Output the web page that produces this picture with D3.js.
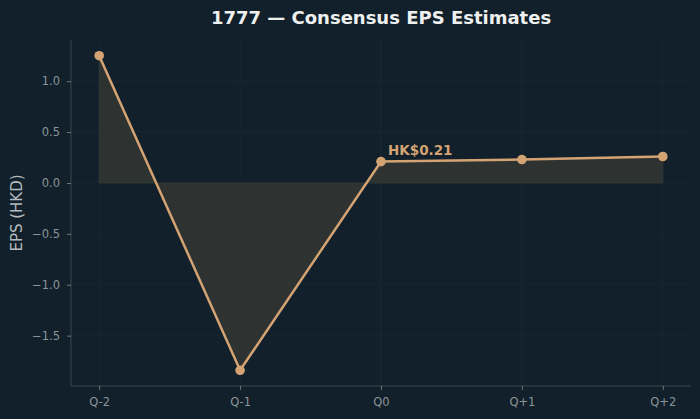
<!DOCTYPE html>
<html>
<head>
<meta charset="utf-8">
<script src="https://cdn.jsdelivr.net/npm/d3@7"></script>
<style>
  html, body { margin: 0; padding: 0; background: #11202a; }
  svg { display: block; font-family: "DejaVu Sans", sans-serif; }
</style>
</head>
<body>
<svg id="chart"></svg>
<script>
const quarters = ['Q-2', 'Q-1', 'Q0', 'Q+1', 'Q+2'];
const eps = [1.25, -1.84, 0.21, 0.23, 0.26];
const yTicks = [-1.5, -1.0, -0.5, 0.0, 0.5, 1.0];
const labelIndex = 2;

const width = 700;
const height = 419;
const margin = {top: 40, right: 9, bottom: 33, left: 71};
const accent = '#d4a373';

const svg = d3.select('#chart')
    .attr('width', width)
    .attr('height', height);

svg.append('rect')
    .attr('width', width)
    .attr('height', height)
    .attr('fill', '#11202a');

// matplotlib-ish 5% padding on both axes
const yExt = d3.extent(eps);
const yPad = (yExt[1] - yExt[0]) * 0.05;
const yScale = d3.scaleLinear()
    .domain([yExt[0] - yPad, yExt[1] + yPad])
    .range([height - margin.bottom, margin.top]);

const xScale = d3.scaleLinear()
    .domain([-0.2, quarters.length - 1 + 0.2])
    .range([margin.left, width - margin.right]);

const data = quarters.map((q, i) => ({q, i, v: eps[i]}));

// grid
svg.append('g')
  .selectAll('line')
  .data(yTicks)
  .join('line')
    .attr('x1', margin.left)
    .attr('x2', width - margin.right)
    .attr('y1', d => yScale(d))
    .attr('y2', d => yScale(d))
    .attr('stroke', '#1a2931')
    .attr('stroke-width', 0.8);

svg.append('g')
  .selectAll('line')
  .data(data)
  .join('line')
    .attr('x1', d => xScale(d.i))
    .attr('x2', d => xScale(d.i))
    .attr('y1', margin.top)
    .attr('y2', height - margin.bottom)
    .attr('stroke', '#1a2931')
    .attr('stroke-width', 0.8);

// fill between zero and the line
const area = d3.area()
    .x(d => xScale(d.i))
    .y0(yScale(0))
    .y1(d => yScale(d.v));

svg.append('path')
    .datum(data)
    .attr('d', area)
    .attr('fill', '#2e3332')
    .attr('stroke', '#363b39')
    .attr('stroke-width', 0.8);

// axes
const xAxis = d3.axisBottom(xScale)
    .tickValues(data.map(d => d.i))
    .tickFormat(i => quarters[i])
    .tickSize(4)
    .tickPadding(8);

const yAxis = d3.axisLeft(yScale)
    .tickValues(yTicks)
    .tickFormat(d => d3.format('.1f')(d).replace('-', '\u2212'))
    .tickSize(4)
    .tickPadding(7);

const styleAxis = g => {
  g.select('.domain').attr('stroke', '#3d474c').attr('stroke-width', 1);
  g.selectAll('.tick line').attr('stroke', '#6d777b');
  g.selectAll('.tick text')
      .attr('fill', '#8a9499')
      .attr('font-size', 11.5)
      .attr('font-family', '"DejaVu Sans", sans-serif');
};

svg.append('g')
    .attr('transform', `translate(0,${height - margin.bottom})`)
    .call(xAxis)
    .call(g => g.select('.domain').attr('d', `M${margin.left},0H${width - margin.right}`))
    .call(styleAxis);

svg.append('g')
    .attr('transform', `translate(${margin.left},0)`)
    .call(yAxis)
    .call(g => g.select('.domain').attr('d', `M0,${margin.top}V${height - margin.bottom}`))
    .call(styleAxis);

// line + markers
const line = d3.line()
    .x(d => xScale(d.i))
    .y(d => yScale(d.v));

svg.append('path')
    .datum(data)
    .attr('d', line)
    .attr('fill', 'none')
    .attr('stroke', accent)
    .attr('stroke-width', 2.5);

svg.append('g')
  .selectAll('circle')
  .data(data)
  .join('circle')
    .attr('cx', d => xScale(d.i))
    .attr('cy', d => yScale(d.v))
    .attr('r', 4.8)
    .attr('fill', accent);

// current quarter label
const cur = data[labelIndex];
svg.append('text')
    .attr('x', xScale(cur.i) + 7)
    .attr('y', yScale(cur.v) - 7)
    .attr('fill', accent)
    .attr('font-size', 13.5)
    .attr('font-weight', 'bold')
    .text(`HK$${cur.v.toFixed(2)}`);

// title + y label
svg.append('text')
    .attr('x', (margin.left + width - margin.right) / 2)
    .attr('y', 24)
    .attr('text-anchor', 'middle')
    .attr('fill', '#eef0ef')
    .attr('font-size', 18)
    .attr('font-weight', 'bold')
    .text('1777 \u2014 Consensus EPS Estimates');

svg.append('text')
    .attr('transform', `translate(22,${(margin.top + height - margin.bottom) / 2}) rotate(-90)`)
    .attr('text-anchor', 'middle')
    .attr('fill', '#b3bbbf')
    .attr('font-size', 15)
    .text('EPS (HKD)');
</script>
</body>
</html>
